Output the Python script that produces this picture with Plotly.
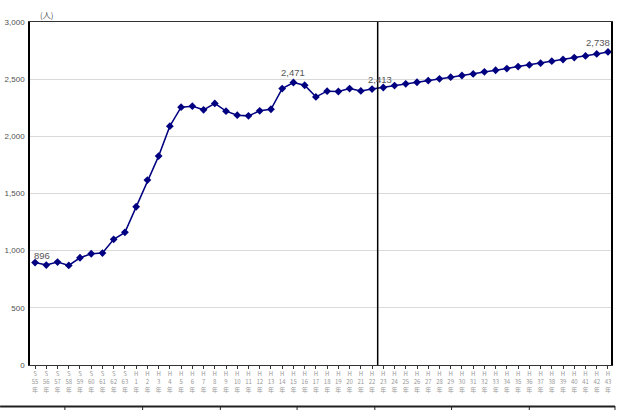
import plotly.graph_objects as go

# ---- data ----
year_labels = (["S<br>%d<br>年" % y for y in range(55, 64)] +
               ["H<br>%d<br>年" % y for y in range(1, 44)])
actual = [896, 874, 900, 871, 938, 973, 979, 1099, 1160, 1384, 1617,
          1827, 2089, 2255, 2264, 2232, 2288, 2220, 2185, 2179, 2223,
          2237, 2418, 2471, 2447, 2345, 2395, 2392, 2418, 2397, 2413]
projected = [2427, 2444, 2459, 2473, 2488, 2503, 2517, 2532, 2546, 2564,
             2578, 2593, 2610, 2625, 2640, 2657, 2672, 2689, 2703, 2721, 2738]
values = actual + projected
labelled = {0: "896", 23: "2,471", 30: "2,413", 51: "2,738"}
label_shift = {0: (-3, 0, "left"), 23: (0, 2, "center"), 30: (8, 2, "center"), 51: (-10, 2, "center")}
y_ticks = [0, 500, 1000, 1500, 2000, 2500, 3000]

xs = list(range(len(values)))

fig = go.Figure()
fig.add_trace(go.Scatter(
    x=xs, y=values, mode="lines+markers",
    line=dict(color="#000080", width=1.5),
    marker=dict(symbol="diamond", size=6, color="#000080"),
    hoverinfo="skip", showlegend=False))

W, H = 618, 410
L, R, T, B = 30, 5, 22, 45
pw, ph = W - L - R, H - T - B

def px_x(X):
    return (X - L) / pw

def px_y(Y):
    return (H - B - Y) / ph

annotations = []
for i, txt in labelled.items():
    dx, dy, anc = label_shift[i]
    annotations.append(dict(x=i, y=values[i], xref="x", yref="y", text=txt,
                            showarrow=False, xanchor=anc, yanchor="bottom",
                            xshift=dx, yshift=dy,
                            font=dict(family="Liberation Sans", size=9.5, color="#555555")))
annotations.append(dict(x=px_x(47), y=px_y(15), xref="paper", yref="paper", text="(人)",
                        showarrow=False, xanchor="center", yanchor="middle",
                        font=dict(family="Noto Sans CJK JP", size=8, color="#555555")))

shapes = [
    dict(type="line", xref="x", yref="paper", x0=len(actual) - 0.5, x1=len(actual) - 0.5,
         y0=0, y1=1, line=dict(color="black", width=1.5)),
    dict(type="line", xref="paper", yref="paper", x0=px_x(0), x1=px_x(617),
         y0=px_y(406.5), y1=px_y(406.5), line=dict(color="#202020", width=2)),
]
for X in [65, 143, 221, 298, 376, 453, 531, 617]:
    shapes.append(dict(type="line", xref="paper", yref="paper", x0=px_x(X), x1=px_x(X),
                       y0=px_y(406), y1=px_y(412), line=dict(color="#202020", width=1)))

fig.update_layout(
    width=W, height=H,
    margin=dict(l=L, r=R, t=T, b=B, pad=0),
    paper_bgcolor="white", plot_bgcolor="white",
    annotations=annotations, shapes=shapes,
    xaxis=dict(range=[-0.45, 51.27], tickmode="array", tickvals=xs, ticktext=year_labels,
               tickangle=0, tickfont=dict(family="Noto Sans CJK JP", size=6, color="#999999"),
               showgrid=False, showline=True, linecolor="#333333", linewidth=1.2, mirror=True,
               ticks="outside", ticklen=3, tickcolor="#333333", zeroline=False),
    yaxis=dict(range=[0, 3000], tickmode="array", tickvals=y_ticks, tickformat=",",
               tickfont=dict(family="Liberation Sans", size=8, color="#505050"),
               showgrid=True, gridcolor="#d9d9d9", gridwidth=1,
               showline=True, linecolor="black", linewidth=1.5, mirror=True,
               ticks="outside", ticklen=2, tickcolor="white", zeroline=False),
)
fig.write_html("out.html")
